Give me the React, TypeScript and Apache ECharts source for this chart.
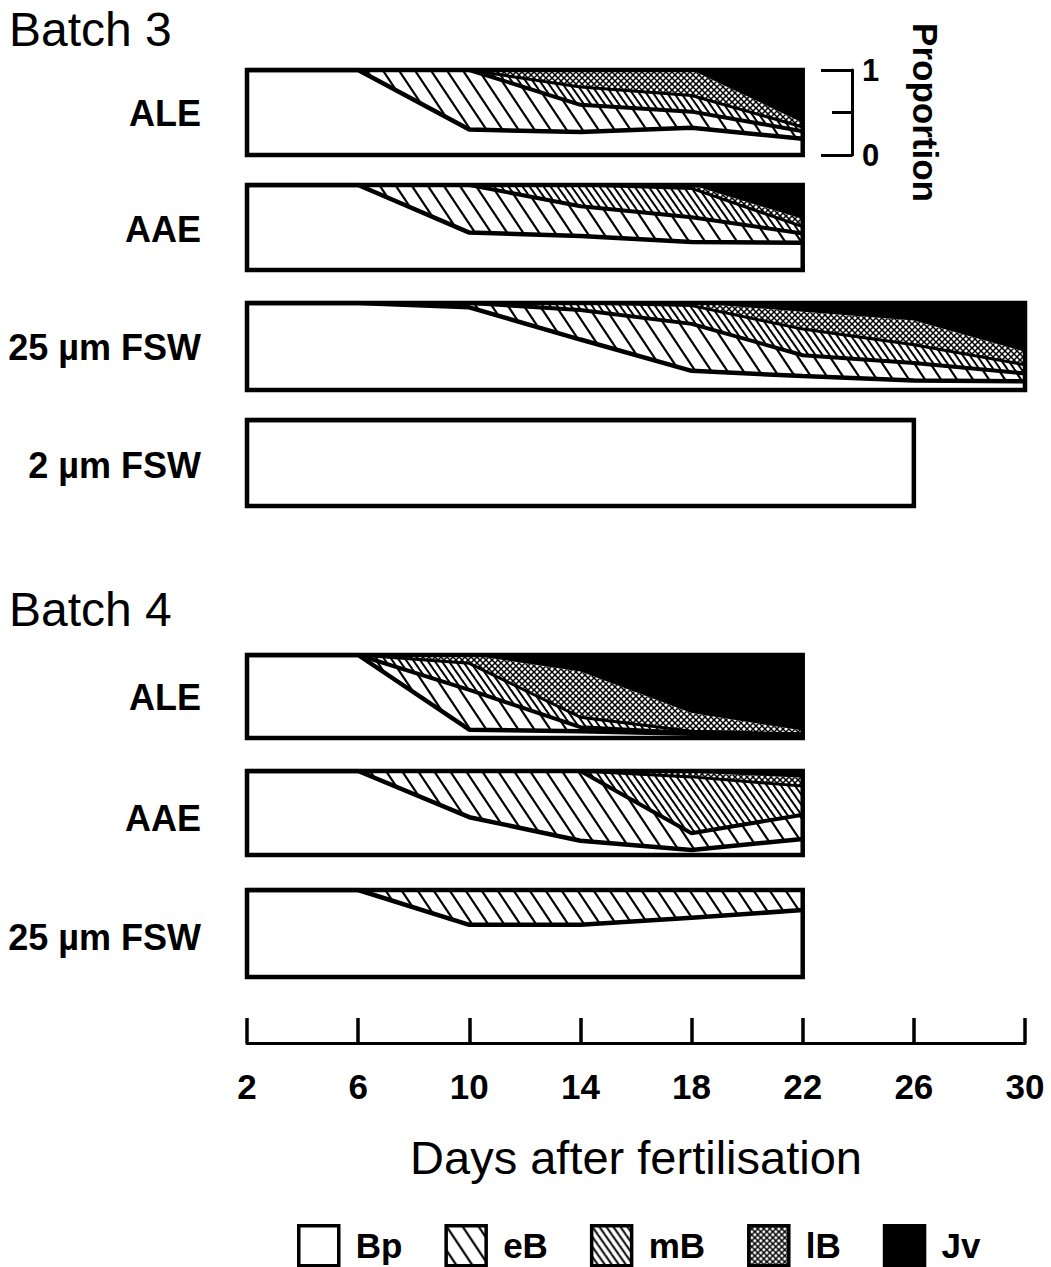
import React, { useEffect, useRef } from 'react';
import * as echarts from 'echarts';

const FONT = '"Liberation Sans", Arial, Helvetica, sans-serif';

// ---- stages ----
const stageNames = ['Bp', 'eB', 'mB', 'lB', 'Jv'];

// ---- x axis (days after fertilisation) ----
const dayCategories = ['2', '6', '10', '14', '18', '22', '26', '30'];
const dayTicksMin = 2;
const dayTicksMax = 30;
const dayTickStep = 4;

// ---- Batch 3, ALE ----
const b3AleDays = [2, 6, 10, 14, 18, 22];
const b3AleBp = [1, 1, 0.30, 0.27, 0.32, 0.19];
const b3AleEB = [0, 0, 0.70, 0.32, 0.19, 0.09];
const b3AleMB = [0, 0, 0, 0.21, 0.19, 0.05];
const b3AleLB = [0, 0, 0, 0.20, 0.30, 0.05];
const b3AleJv = [0, 0, 0, 0, 0, 0.62];

// ---- Batch 3, AAE ----
const b3AaeDays = [2, 6, 10, 14, 18, 22];
const b3AaeBp = [1, 1, 0.44, 0.40, 0.33, 0.32];
const b3AaeEB = [0, 0, 0.56, 0.35, 0.29, 0.11];
const b3AaeMB = [0, 0, 0, 0.25, 0.34, 0.08];
const b3AaeLB = [0, 0, 0, 0, 0.04, 0.09];
const b3AaeJv = [0, 0, 0, 0, 0, 0.40];

// ---- Batch 3, 25 um FSW ----
const b3F25Days = [2, 6, 10, 14, 18, 22, 26, 30];
const b3F25Bp = [1, 1, 0.95, 0.58, 0.22, 0.16, 0.11, 0.10];
const b3F25EB = [0, 0, 0.05, 0.34, 0.54, 0.24, 0.20, 0.09];
const b3F25MB = [0, 0, 0, 0.08, 0.21, 0.30, 0.21, 0.10];
const b3F25LB = [0, 0, 0, 0, 0.03, 0.20, 0.28, 0.15];
const b3F25Jv = [0, 0, 0, 0, 0, 0.10, 0.20, 0.56];

// ---- Batch 3, 2 um FSW ----
const b3F2Days = [2, 6, 10, 14, 18, 22, 26];
const b3F2Bp = [1, 1, 1, 1, 1, 1, 1];
const b3F2EB = [0, 0, 0, 0, 0, 0, 0];
const b3F2MB = [0, 0, 0, 0, 0, 0, 0];
const b3F2LB = [0, 0, 0, 0, 0, 0, 0];
const b3F2Jv = [0, 0, 0, 0, 0, 0, 0];

// ---- Batch 4, ALE ----
const b4AleDays = [2, 6, 10, 14, 18, 22];
const b4AleBp = [1, 1, 0.10, 0.08, 0.05, 0.03];
const b4AleEB = [0, 0, 0.48, 0.05, 0.01, 0.01];
const b4AleMB = [0, 0, 0.32, 0.12, 0.02, 0.01];
const b4AleLB = [0, 0, 0.10, 0.55, 0.22, 0.04];
const b4AleJv = [0, 0, 0, 0.20, 0.70, 0.91];

// ---- Batch 4, AAE ----
const b4AaeDays = [2, 6, 10, 14, 18, 22];
const b4AaeBp = [1, 1, 0.45, 0.17, 0.06, 0.19];
const b4AaeEB = [0, 0, 0.55, 0.83, 0.20, 0.29];
const b4AaeMB = [0, 0, 0, 0, 0.67, 0.34];
const b4AaeLB = [0, 0, 0, 0, 0.05, 0.10];
const b4AaeJv = [0, 0, 0, 0, 0.02, 0.08];

// ---- Batch 4, 25 um FSW ----
const b4F25Days = [2, 6, 10, 14, 18, 22];
const b4F25Bp = [1, 1, 0.60, 0.60, 0.68, 0.77];
const b4F25EB = [0, 0, 0.40, 0.40, 0.32, 0.23];
const b4F25MB = [0, 0, 0, 0, 0, 0];
const b4F25LB = [0, 0, 0, 0, 0, 0];
const b4F25Jv = [0, 0, 0, 0, 0, 0];

const panelLabels = ['ALE', 'AAE', '25 µm FSW', '2 µm FSW', 'ALE', 'AAE', '25 µm FSW'];
const panelDays = [b3AleDays, b3AaeDays, b3F25Days, b3F2Days, b4AleDays, b4AaeDays, b4F25Days];
const panelStages = [
  [b3AleBp, b3AleEB, b3AleMB, b3AleLB, b3AleJv],
  [b3AaeBp, b3AaeEB, b3AaeMB, b3AaeLB, b3AaeJv],
  [b3F25Bp, b3F25EB, b3F25MB, b3F25LB, b3F25Jv],
  [b3F2Bp, b3F2EB, b3F2MB, b3F2LB, b3F2Jv],
  [b4AleBp, b4AleEB, b4AleMB, b4AleLB, b4AleJv],
  [b4AaeBp, b4AaeEB, b4AaeMB, b4AaeLB, b4AaeJv],
  [b4F25Bp, b4F25EB, b4F25MB, b4F25LB, b4F25Jv],
];

// ---- layout (pixels) ----
const panelTop = [70, 185, 303, 420, 655, 771, 890];
const panelHeight = [85, 85, 87, 86, 83, 84, 87];
const labelY = [113, 229, 347, 465, 697, 818, 937];
const gridLeft = 247;
const gridRight = 26;

function hatchCanvas(w: number, h: number, lw: number, both: boolean) {
  const c = document.createElement('canvas');
  c.width = w;
  c.height = h;
  const ctx = c.getContext('2d')!;
  ctx.strokeStyle = '#000';
  ctx.lineWidth = lw;
  ctx.lineCap = 'butt';
  for (const k of [-1, 0, 1]) {
    ctx.beginPath();
    ctx.moveTo(k * w - w * 0.5, -h * 0.5);
    ctx.lineTo(k * w + w * 1.5, h * 1.5);
    ctx.stroke();
    if (both) {
      ctx.beginPath();
      ctx.moveTo(k * w + w * 1.5, -h * 0.5);
      ctx.lineTo(k * w - w * 0.5, h * 1.5);
      ctx.stroke();
    }
  }
  return c;
}

function buildOption() {
  const fills: any[] = [
    '#ffffff',
    { image: hatchCanvas(16, 24, 2.2, false), repeat: 'repeat' },
    { image: hatchCanvas(7, 10, 2, false), repeat: 'repeat' },
    { image: hatchCanvas(6, 6, 1.5, true), repeat: 'repeat' },
    '#000000',
  ];
  const lineWidths = [4.5, 4, 3, 0, 0];

  const grid: any[] = [];
  const xAxis: any[] = [];
  const yAxis: any[] = [];
  const series: any[] = [];

  panelLabels.forEach((_, i) => {
    grid.push({ left: gridLeft, right: gridRight, top: panelTop[i], height: panelHeight[i] });
    xAxis.push({ type: 'category', gridIndex: i, data: dayCategories, boundaryGap: false, show: false });
    if (i === 0) {
      yAxis.push({
        type: 'value',
        gridIndex: 0,
        min: 0,
        max: 1,
        interval: 1,
        position: 'right',
        offset: -173,
        axisLine: { show: true, onZero: false, lineStyle: { color: '#000', width: 3 } },
        axisTick: { show: true, inside: true, length: 31, lineStyle: { color: '#000', width: 3 } },
        minorTick: { show: true, splitNumber: 2, length: 20, lineStyle: { color: '#000', width: 3 } },
        splitLine: { show: false },
        minorSplitLine: { show: false },
        axisLabel: { show: true, color: '#000', fontSize: 31, fontWeight: 'bold', fontFamily: FONT, margin: 10 },
        name: 'Proportion',
        nameLocation: 'middle',
        nameRotate: -90,
        nameGap: 56,
        nameTextStyle: { color: '#000', fontSize: 35, fontWeight: 'bold', fontFamily: FONT },
      });
    } else {
      yAxis.push({ type: 'value', gridIndex: i, min: 0, max: 1, show: false });
    }
    const days = panelDays[i];
    panelStages[i].forEach((vals, s) => {
      series.push({
        type: 'line',
        name: stageNames[s],
        xAxisIndex: i,
        yAxisIndex: i,
        stack: 'panel' + i,
        data: days.map((d, j) => [String(d), vals[j]]),
        symbol: 'none',
        showSymbol: false,
        silent: true,
        emphasis: { disabled: true },
        itemStyle: { color: '#000' },
        lineStyle: { color: '#000', width: lineWidths[s], opacity: lineWidths[s] > 0 ? 1 : 0 },
        areaStyle: { color: fills[s], opacity: 1 },
        z: 2,
      });
    });
    series.push({
      type: 'custom',
      name: 'box' + i,
      xAxisIndex: i,
      yAxisIndex: i,
      silent: true,
      z: 5,
      data: [[0, 0, days.length - 1]],
      renderItem: (params: any, api: any) => {
        const p0 = api.coord([api.value(0), 1]);
        const p1 = api.coord([api.value(2), 0]);
        return {
          type: 'rect',
          shape: { x: p0[0], y: p0[1], width: p1[0] - p0[0], height: p1[1] - p0[1] },
          style: { fill: 'none', stroke: '#000', lineWidth: 4.5 },
        };
      },
    });
  });

  // bottom axis
  const bi = panelLabels.length;
  grid.push({ left: gridLeft, right: gridRight, top: 1000, height: 43 });
  xAxis.push({
    type: 'value',
    gridIndex: bi,
    min: dayTicksMin,
    max: dayTicksMax,
    interval: dayTickStep,
    axisLine: { show: true, onZero: false, lineStyle: { color: '#000', width: 3 } },
    axisTick: { show: true, inside: true, length: 25, lineStyle: { color: '#000', width: 3.5 } },
    splitLine: { show: false },
    axisLabel: { color: '#000', fontSize: 35, fontWeight: 'bold', fontFamily: FONT, margin: 26 },
    name: 'Days after fertilisation',
    nameLocation: 'middle',
    nameGap: 91,
    nameTextStyle: { color: '#000', fontSize: 47, fontFamily: FONT },
  });
  yAxis.push({ type: 'value', gridIndex: bi, min: 0, max: 1, show: false });
  series.push({ type: 'line', name: 'axis', xAxisIndex: bi, yAxisIndex: bi, data: [], silent: true });

  const graphic: any[] = [
    { type: 'text', x: 9, y: 29, style: { text: 'Batch 3', fontSize: 48, fontFamily: FONT, fill: '#000', align: 'left', verticalAlign: 'middle' } },
    { type: 'text', x: 9, y: 609, style: { text: 'Batch 4', fontSize: 48, fontFamily: FONT, fill: '#000', align: 'left', verticalAlign: 'middle' } },
  ];
  panelLabels.forEach((lab, i) => {
    graphic.push({
      type: 'text',
      x: 201,
      y: labelY[i],
      style: { text: lab, fontSize: 36, fontWeight: 'bold', fontFamily: FONT, fill: '#000', align: 'right', verticalAlign: 'middle' },
    });
  });

  return {
    animation: false,
    backgroundColor: '#ffffff',
    grid,
    xAxis,
    yAxis,
    series,
    graphic,
    legend: {
      left: 297,
      top: 1224,
      icon: 'rect',
      itemWidth: 40,
      itemHeight: 40,
      itemGap: 42,
      padding: 0,
      selectedMode: false,
      textStyle: { color: '#000', fontSize: 35, lineHeight: 36, fontWeight: 'bold', fontFamily: FONT, padding: [0, 0, 0, 12] },
      data: stageNames.map((n, s) => ({
        name: n,
        icon: 'rect',
        itemStyle: { color: fills[s], borderColor: '#000', borderWidth: 3.5 },
      })),
    },
  };
}

export default function App() {
  const ref = useRef<HTMLDivElement>(null);
  useEffect(() => {
    document.body.style.margin = '0';
    const chart = echarts.init(ref.current!, null, { renderer: 'svg' });
    chart.setOption(buildOption());
    return () => chart.dispose();
  }, []);
  return <div ref={ref} style={{ width: 1051, height: 1267, background: '#fff' }} />;
}
